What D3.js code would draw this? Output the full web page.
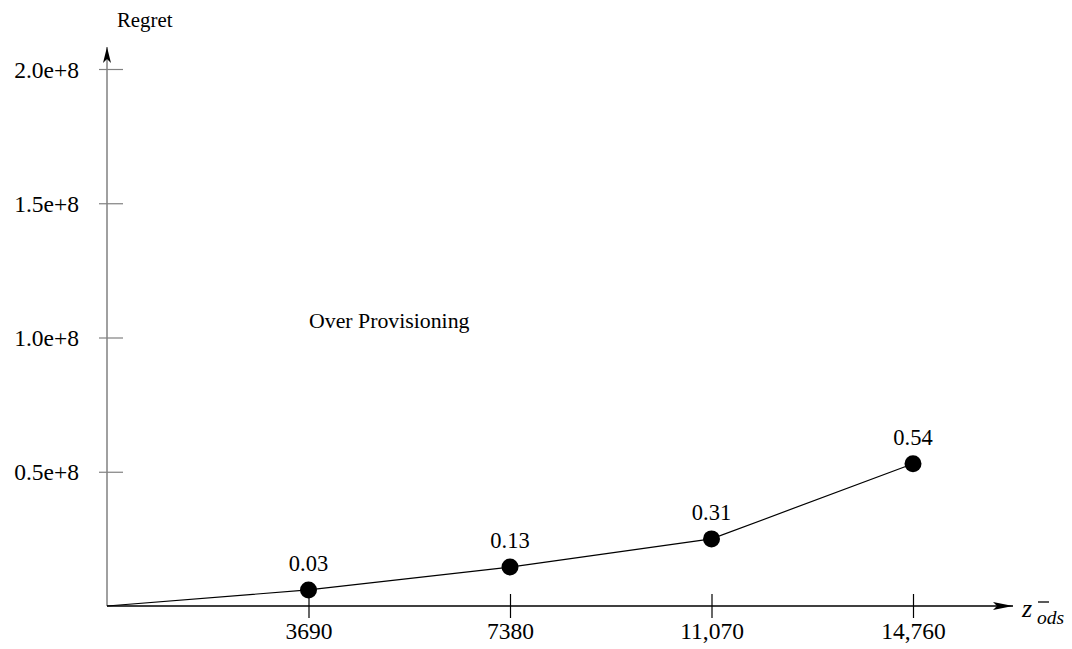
<!DOCTYPE html>
<html>
<head>
<meta charset="utf-8">
<script src="https://cdn.jsdelivr.net/npm/d3@7"></script>
<style>
  body { margin: 0; background: #fff; }
  svg text { font-family: "Liberation Serif", "Times New Roman", serif; fill: #000; }
</style>
</head>
<body>
<svg class="regret-plot" width="1072" height="649"></svg>
<script>
// chart data
var zValues = [3690, 7380, 11070, 14760];
var zLabels = ['3690', '7380', '11,070', '14,760'];
var regret = [6.0e6, 1.45e7, 2.5e7, 5.3e7];
var pointLabels = ['0.03', '0.13', '0.31', '0.54'];
var yTicks = [0.5e8, 1.0e8, 1.5e8, 2.0e8];
var yTickLabels = ['0.5e+8', '1.0e+8', '1.5e+8', '2.0e+8'];

var svg = d3.select('svg.regret-plot');

var xScale = d3.scaleLinear().domain([0, 14760]).range([107, 913]);
var yScale = d3.scaleLinear().domain([0, 2.0e8]).range([606, 69]);

// arrow markers
var defs = svg.append('defs');
defs.append('marker')
    .attr('id', 'arrowX')
    .attr('viewBox', '0 0 20 8')
    .attr('refX', 20).attr('refY', 4)
    .attr('markerWidth', 20).attr('markerHeight', 8)
    .attr('markerUnits', 'userSpaceOnUse')
    .attr('orient', 'auto')
  .append('path')
    .attr('d', 'M0,0 L20,4 L0,8 L4,4 Z')
    .attr('fill', '#000');
defs.append('marker')
    .attr('id', 'arrowY')
    .attr('viewBox', '0 0 16 8')
    .attr('refX', 16).attr('refY', 4)
    .attr('markerWidth', 16).attr('markerHeight', 8)
    .attr('markerUnits', 'userSpaceOnUse')
    .attr('orient', 'auto')
  .append('path')
    .attr('d', 'M0,0 L16,4 L0,8 L4,4 Z')
    .attr('fill', '#000');

// y axis (gray)
var yAxisG = svg.append('g')
    .attr('class', 'y axis')
    .attr('transform', 'translate(' + xScale(0) + ',0)')
    .call(d3.axisLeft(yScale)
        .tickValues(yTicks)
        .tickFormat(function(d, i) { return yTickLabels[i]; }));
yAxisG.select('.domain').remove();
yAxisG.selectAll('.tick line')
    .attr('x1', -8).attr('x2', 16)
    .attr('stroke', '#808080').attr('stroke-width', 1.2);
yAxisG.selectAll('.tick text')
    .attr('x', -28)
    .attr('dy', '0.34em')
    .attr('font-size', 23.5);

svg.append('line')
    .attr('x1', xScale(0)).attr('y1', yScale(0))
    .attr('x2', xScale(0)).attr('y2', 47)
    .attr('stroke', '#808080').attr('stroke-width', 1.5)
    .attr('marker-end', 'url(#arrowY)');

// x axis (black)
var xAxisG = svg.append('g')
    .attr('class', 'x axis')
    .attr('transform', 'translate(0,' + yScale(0) + ')')
    .call(d3.axisBottom(xScale)
        .tickValues(zValues)
        .tickFormat(function(d, i) { return zLabels[i]; }));
xAxisG.select('.domain').remove();
xAxisG.selectAll('.tick line')
    .attr('y1', -12).attr('y2', 12)
    .attr('stroke', '#000').attr('stroke-width', 1.2);
xAxisG.selectAll('.tick text')
    .attr('y', 33)
    .attr('dy', 0)
    .attr('font-size', 23.5);

svg.append('line')
    .attr('x1', xScale(0)).attr('y1', yScale(0))
    .attr('x2', 1013).attr('y2', yScale(0))
    .attr('stroke', '#000').attr('stroke-width', 1.3)
    .attr('marker-end', 'url(#arrowX)');

// axis titles
svg.append('text')
    .attr('x', 117).attr('y', 27)
    .attr('font-size', 20.8)
    .text('Regret');

// z with overbar and subscript
var zLabel = svg.append('text')
    .attr('x', 1022).attr('y', 617)
    .attr('font-size', 26)
    .attr('font-style', 'italic');
zLabel.append('tspan').text('z');
zLabel.append('tspan')
    .attr('x', 1037).attr('y', 624)
    .attr('font-size', 19.5)
    .text('ods');
svg.append('line')
    .attr('x1', 1038).attr('y1', 602)
    .attr('x2', 1049).attr('y2', 602)
    .attr('stroke', '#000').attr('stroke-width', 1.3);

// series line, starting at the origin
var lineData = [[0, 0]].concat(zValues.map(function(d, i) { return [d, regret[i]]; }));
var line = d3.line()
    .x(function(d) { return xScale(d[0]); })
    .y(function(d) { return yScale(d[1]); });
svg.append('path')
    .datum(lineData)
    .attr('d', line)
    .attr('fill', 'none')
    .attr('stroke', '#000')
    .attr('stroke-width', 1.2);

// points + labels
var dots = svg.selectAll('.dot')
    .data(zValues)
    .enter().append('g')
    .attr('class', 'dot')
    .attr('transform', function(d, i) {
        return 'translate(' + [xScale(d), yScale(regret[i])] + ')';
    });
dots.append('circle')
    .attr('r', 8.5)
    .attr('fill', '#000');
dots.append('text')
    .attr('y', -19)
    .attr('text-anchor', 'middle')
    .attr('font-size', 22.5)
    .text(function(d, i) { return pointLabels[i]; });

svg.append('text')
    .attr('x', 309).attr('y', 328)
    .attr('font-size', 21.8)
    .text('Over Provisioning');
</script>
</body>
</html>
